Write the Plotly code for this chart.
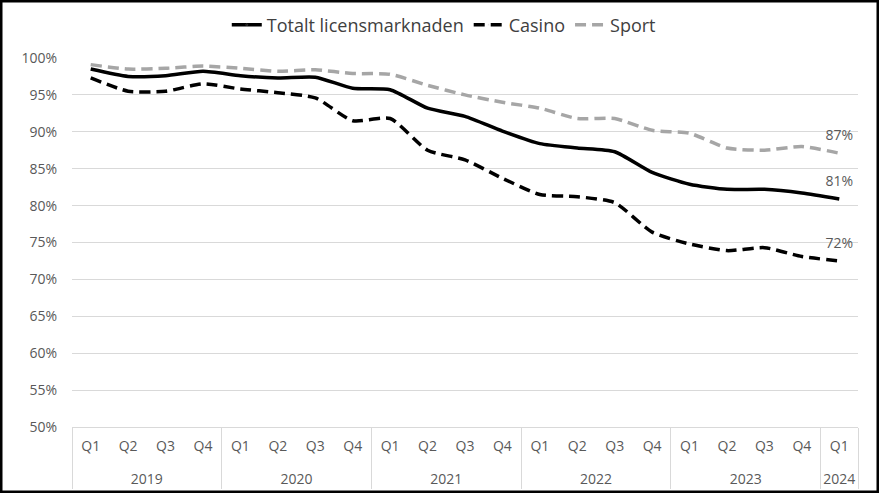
import plotly.graph_objects as go

# quarters 2019 Q1 .. 2024 Q1
years = ["2019"] * 4 + ["2020"] * 4 + ["2021"] * 4 + ["2022"] * 4 + ["2023"] * 4 + ["2024"]
quarters = ["Q1", "Q2", "Q3", "Q4"] * 5 + ["Q1"]

totalt = [98.5, 97.5, 97.6, 98.2, 97.6, 97.3, 97.4, 95.9, 95.7, 93.2, 92.1,
          90.1, 88.4, 87.8, 87.3, 84.5, 82.9, 82.2, 82.2, 81.7, 80.9]
casino = [97.3, 95.5, 95.5, 96.5, 95.8, 95.3, 94.6, 91.5, 91.8, 87.5, 86.2,
          83.7, 81.5, 81.2, 80.4, 76.4, 74.8, 73.9, 74.3, 73.1, 72.5]
sport = [99.1, 98.5, 98.6, 98.9, 98.6, 98.2, 98.4, 97.9, 97.8, 96.3, 95.0,
         94.0, 93.2, 91.8, 91.8, 90.2, 89.8, 87.8, 87.5, 88.0, 87.1]

end_labels = {"totalt": "81%", "casino": "72%", "sport": "87%"}

FONT = "Open Sans, Liberation Sans, sans-serif"

# year row sits one text line lower than the quarter row
year_row = ["<br>" + y for y in years]


def last_label(vals, lab):
    return [""] * (len(vals) - 1) + [lab]


def add_line(vals, name, lab, color, dash):
    n = len(vals)
    fig.add_trace(go.Scatter(
        x=[year_row, quarters], y=vals, name=name,
        mode="lines+markers+text", text=last_label(vals, lab), textposition="top center",
        marker=dict(size=[0] * (n - 1) + [14], opacity=0),
        line=dict(color=color, width=3.5, dash=dash, shape="spline", smoothing=0.6)))


fig = go.Figure()
add_line(totalt, "Totalt licensmarknaden", end_labels["totalt"], "black", "solid")
add_line(casino, "Casino", end_labels["casino"], "black", "11px,6px")
add_line(sport, "Sport", end_labels["sport"], "#A6A6A6", "11px,6px")

fig.update_traces(textfont=dict(family=FONT, size=14, color="#595959"))

# frame around the whole picture
fig.add_shape(type="rect", xref="paper", yref="paper",
              x0=-71 / 786, x1=1 + 20 / 786, y0=-65 / 369, y1=1 + 57 / 369,
              line=dict(color="black", width=3), layer="below")

fig.update_layout(
    width=879, height=493,
    margin=dict(l=72, r=21, t=58, b=66, autoexpand=False),
    paper_bgcolor="white", plot_bgcolor="white",
    font=dict(family=FONT, color="#595959", size=14),
    showlegend=True,
    legend=dict(orientation="h", x=0.473, xanchor="center", y=1.089, yanchor="middle",
                font=dict(family=FONT, size=18, color="#404040"), traceorder="normal"),
    xaxis=dict(type="multicategory", range=[-0.5, len(quarters) - 0.5],
               showgrid=False, showline=True, linecolor="#D9D9D9",
               showdividers=True, dividercolor="#D9D9D9", dividerwidth=1, automargin=False,
               ticklabelstandoff=6,
               tickfont=dict(family=FONT, size=14, color="#595959"), ticks=""),
    yaxis=dict(range=[50, 100], dtick=5, ticksuffix="%", showgrid=True, gridcolor="#D9D9D9",
               gridwidth=1, zeroline=False, showline=False, automargin=False,
               ticklabelstandoff=14,
               tickfont=dict(family=FONT, size=14, color="#595959")),
)

fig.write_html("out.html", config={"displayModeBar": False},
               post_script="document.body.style.margin='0';")
